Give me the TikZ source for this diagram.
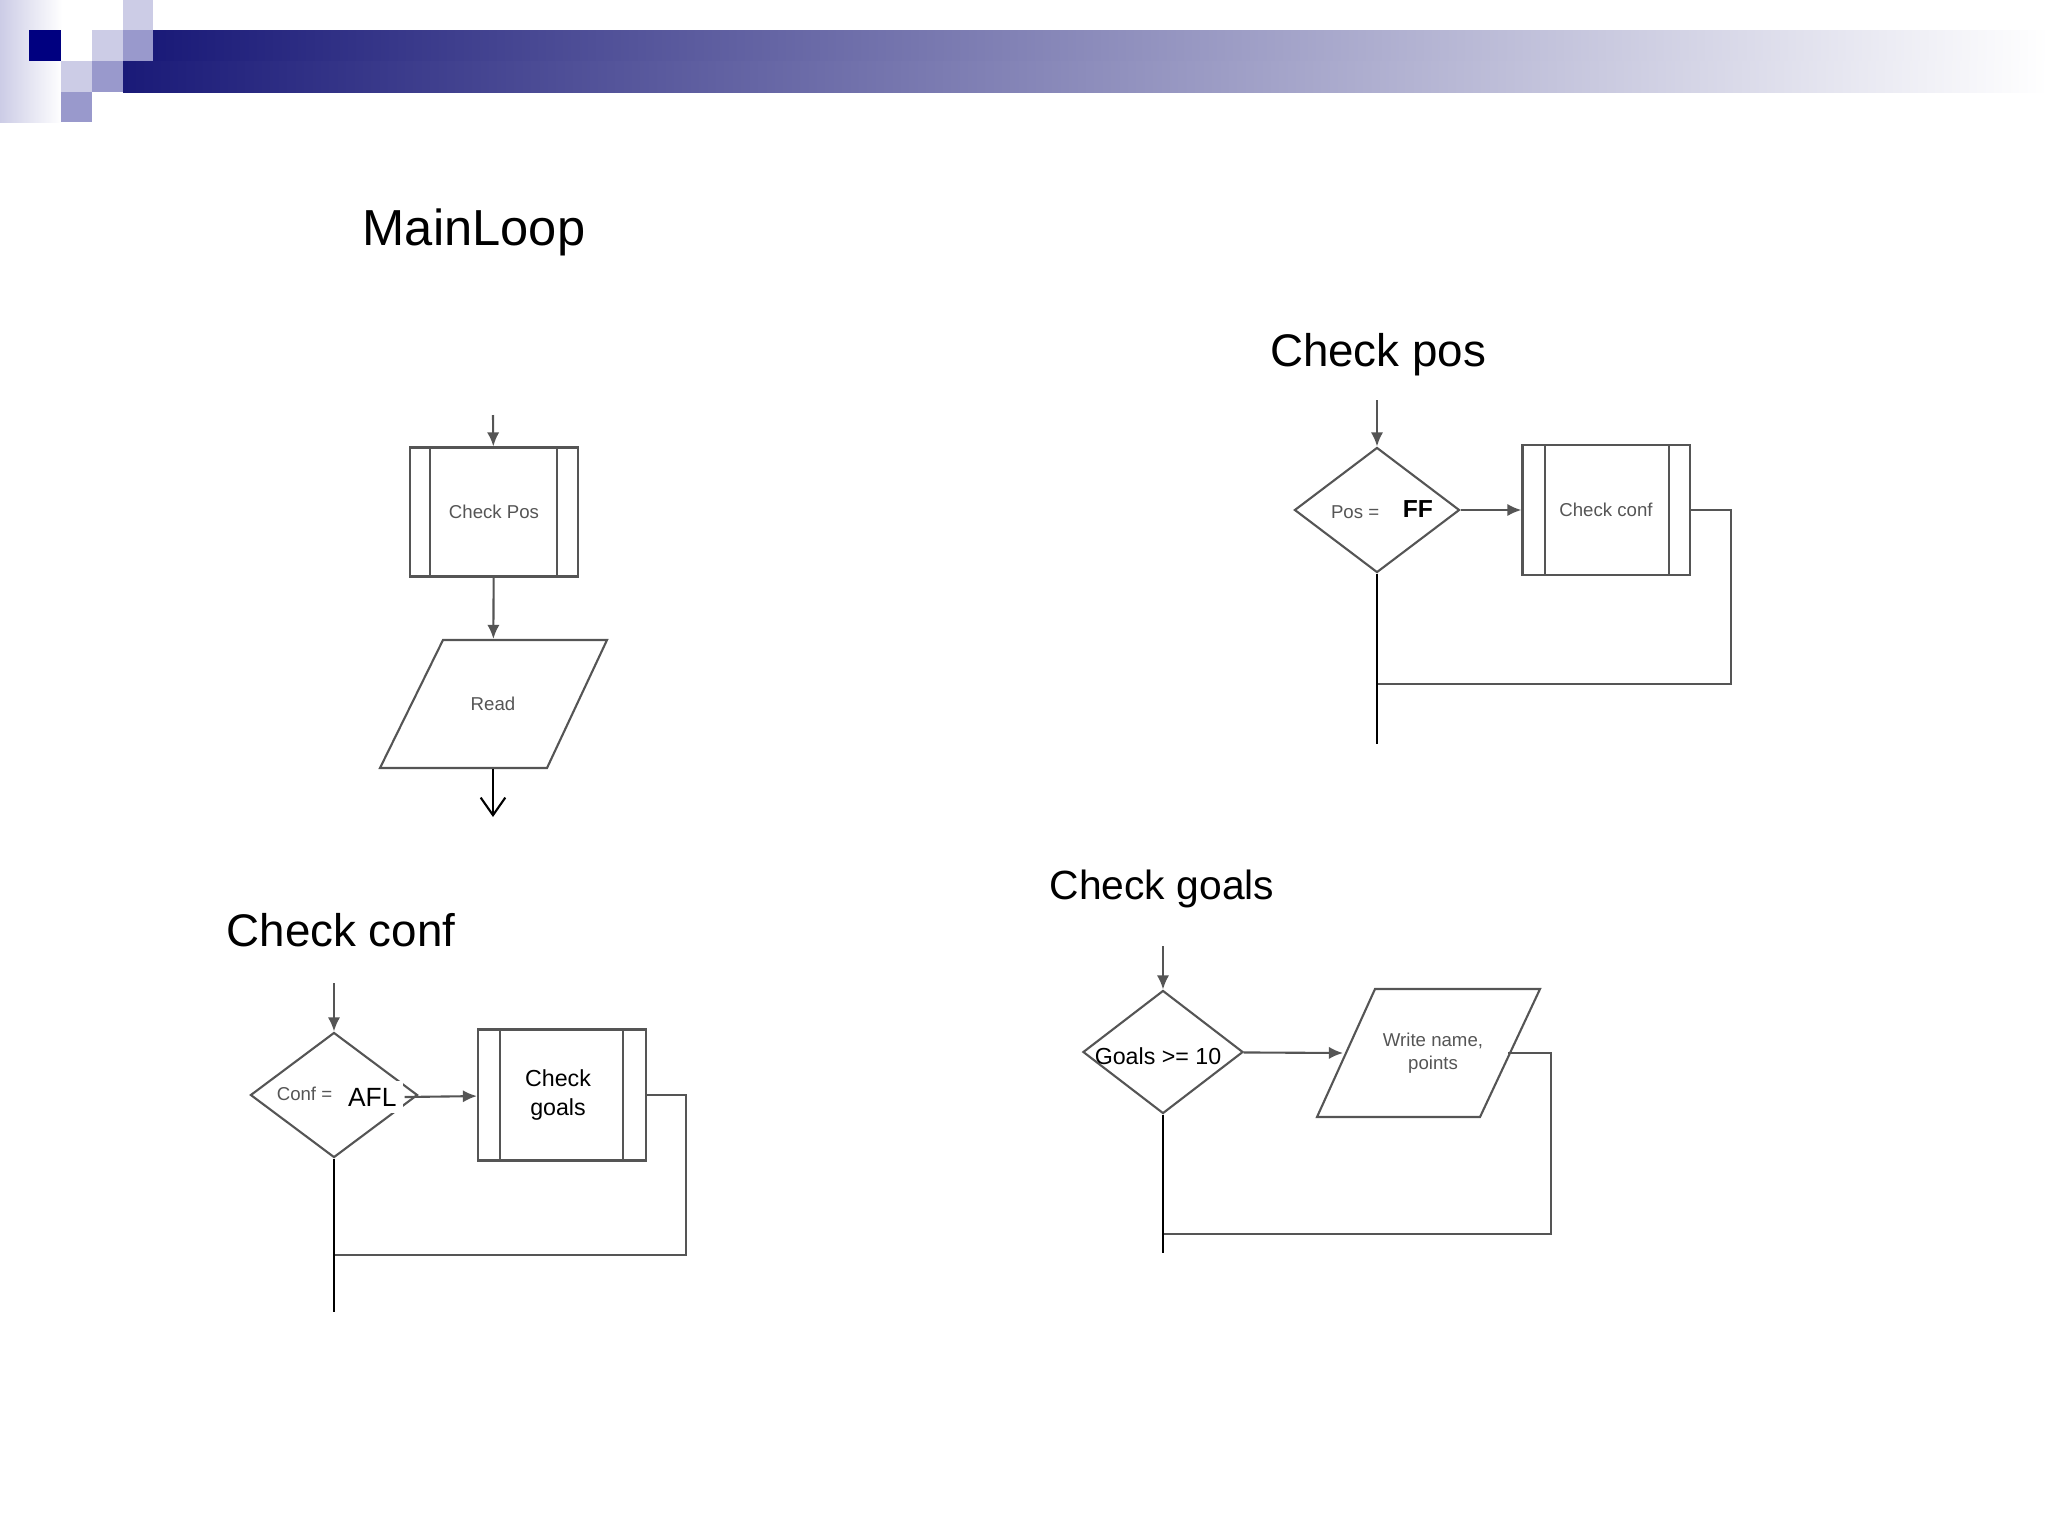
\documentclass[tikz,border=0pt]{standalone}
\usepackage{fontspec}
\setmainfont{Liberation Sans}
\usetikzlibrary{shapes.geometric,arrows.meta}
\definecolor{navy}{HTML}{000080}
\definecolor{band}{HTML}{1A1A78}
\definecolor{lav}{HTML}{CCCCE6}
\definecolor{midlav}{HTML}{9999CC}
\definecolor{ink}{HTML}{555555}

\begin{document}
\begin{tikzpicture}[x=0.01cm, y=-0.01cm,
    line width=0.6pt, draw=ink, >={Latex[length=4pt,width=3.5pt]},
    title/.style={font=\fontsize{14.4}{16}\selectfont},
    subtitle/.style={font=\fontsize{13}{15}\selectfont},
    small/.style={font=\fontsize{5.3}{6.5}\selectfont, text=ink, align=center},
    big/.style={font=\fontsize{6.6}{8}\selectfont, align=center},
    decision/.style={draw=ink, diamond, aspect=1.3, inner sep=0pt},
    proc/.style={draw=ink, rectangle, inner sep=0pt},
    io/.style={rectangle, inner sep=0pt}]
    \useasboundingbox (0,0) rectangle (2048,1536);
    % Header
    \shade[left color=lav, right color=white] (0,0) rectangle (62,122);
    \shade[left color=band, right color=white, draw=none] (153,30) rectangle (2048,61);
    \shade[left color=band, right color=white, draw=none] (123,61) rectangle (2048,92);
    \fill[navy] (29,30) rectangle (61,61);
    \fill[lav] (92,30) rectangle (123,61);
    \fill[midlav] (123,30) rectangle (153,61);
    \fill[lav] (123,0) rectangle (153,30);
    \fill[lav] (61,61) rectangle (92,92);
    \fill[midlav] (92,61) rectangle (123,92);
    \fill[midlav] (61,92) rectangle (92,122);

    % MainLoop
    \node[title] (tmain) at (474,232) {MainLoop};
    \coordinate (m0) at (493,415);
    \node[proc, minimum width=1.68cm, minimum height=1.29cm] (chkpos) at (494,512) {};
    \node[small] at (chkpos) {Check Pos};
    \draw (430,448) -- (430,577) (557,448) -- (557,577);
    \node[io, minimum width=1.67cm, minimum height=1.28cm] (read) at (493,704) {};
    \draw (443,640) -- (607,640) -- (547,768) -- (380,768) -- cycle;
    \node[small] at (read) {Read};
    \coordinate (m1) at (493,817);
    \draw[->] (m0) -- (chkpos);
    \draw[->] (chkpos) -- (read);
    \draw[-{Straight Barb[length=5pt,width=7pt]}, draw=black] (read.south) -- (m1);

    % Check pos
    \node[subtitle] (tpos) at (1378,355) {Check pos};
    \coordinate (p0) at (1377,400);
    \node[decision, minimum width=1.65cm, minimum height=1.25cm] (pos) at (1377,510) {};
    \node[small, anchor=east] at (1392,512) {Pos =};
    \node[font=\fontsize{7}{9}\selectfont\bfseries, anchor=west] at (1390,509) {FF};
    \node[proc, minimum width=1.67cm, minimum height=1.30cm] (chkconf) at (1606,510) {};
    \draw (1545,445) -- (1545,575) (1669,445) -- (1669,575);
    \node[small] at (chkconf) {Check conf};
    \coordinate (p1) at (1731,684);
    \coordinate (p2) at (1377,744);
    \draw[->] (p0) -- (pos);
    \draw[->] (pos) -- (chkconf);
    \draw (chkconf.east) -| (p1) -- (1377,684);
    \draw[draw=black] (pos.south) -- (p2);

    % Check conf
    \node[subtitle] (tconf) at (341,930) {Check conf};
    \coordinate (c0) at (334,983);
    \node[decision, minimum width=1.67cm, minimum height=1.25cm] (conf) at (334,1095) {};
    \node[small, anchor=east] at (345,1094) {Conf =};
    \node[big, fill=white, inner sep=2pt, font=\fontsize{7.5}{9}\selectfont, anchor=west] (afl) at (340,1097) {AFL};
    \node[proc, minimum width=1.68cm, minimum height=1.31cm] (chkgoals) at (562,1095) {};
    \draw (500,1030) -- (500,1161) (623,1030) -- (623,1161);
    \node[big] at (558,1095) {Check\\goals};
    \coordinate (c1) at (686,1255);
    \coordinate (c2) at (334,1312);
    \draw[->] (c0) -- (conf);
    \draw[->] (afl.east) -- (chkgoals);
    \draw (chkgoals.east) -| (c1) -- (334,1255);
    \draw[draw=black] (conf.south) -- (c2);

    % Check goals
    \node[font=\fontsize{11.6}{14}\selectfont] (tgoals) at (1162,889) {Check goals};
    \coordinate (g0) at (1163,946);
    \node[decision, minimum width=1.60cm, minimum height=1.23cm] (goals) at (1163,1052) {};
    \node[big] at (1158,1056) {Goals >= 10};
    \node[io, minimum width=1.6cm, minimum height=1.28cm] (write) at (1428,1053) {};
    \draw (1375,989) -- (1540,989) -- (1480,1117) -- (1317,1117) -- cycle;
    \node[small] at (1433,1053) {Write name,\\points};
    \coordinate (g1) at (1343,1053);
    \coordinate (g2) at (1508,1053);
    \coordinate (g3) at (1551,1234);
    \coordinate (g4) at (1163,1253);
    \draw[->] (g0) -- (goals);
    \draw[->] (goals) -- (g1);
    \draw (g2) -| (g3) -- (1163,1234);
    \draw[draw=black] (goals.south) -- (g4);
\end{tikzpicture}
\end{document}
